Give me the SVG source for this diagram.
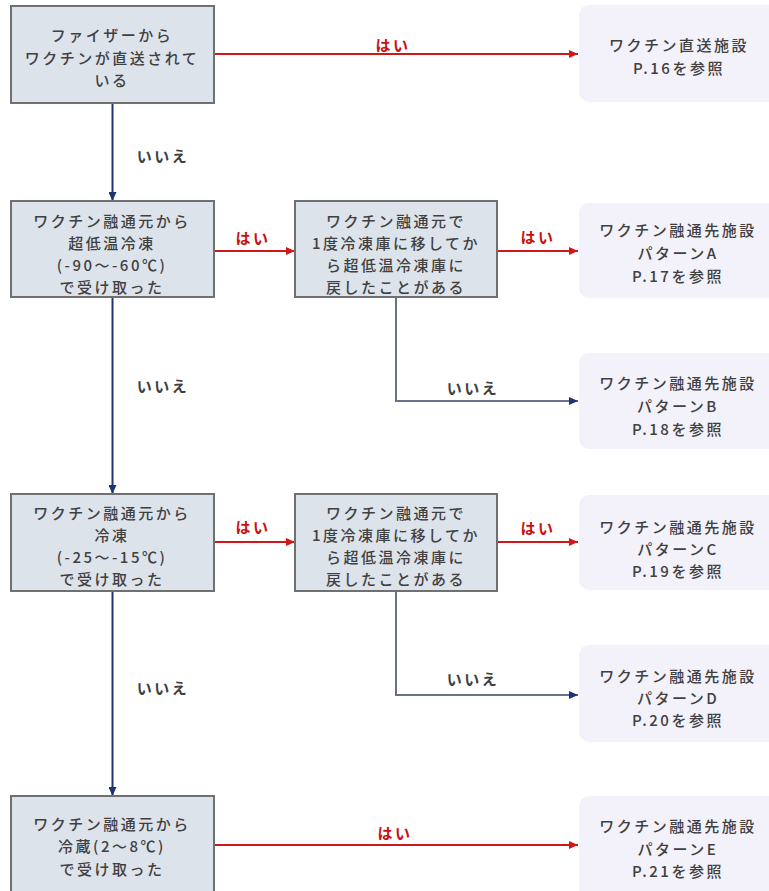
<svg xmlns="http://www.w3.org/2000/svg" width="769" height="891" viewBox="0 0 769 891">
<style>
text{font-family:"Noto Sans CJK JP","Noto Sans",sans-serif;font-size:15px;letter-spacing:2.5px;text-anchor:middle;dominant-baseline:central;fill:#404040;font-weight:500}
.q{fill:#dde3eb;stroke:#707070;stroke-width:2}
.r{fill:#f3f1f9;stroke:none}
.yes{stroke:#d01818;stroke-width:2;fill:none}
.no{stroke:#1f3372;stroke-width:2;fill:none}
.no2{stroke:#6a7088;stroke-width:2;fill:none}
.ly{fill:#c81010;font-weight:700}
.ln{fill:#404040;font-weight:700}
</style>
<defs>
<marker id="ar" markerUnits="userSpaceOnUse" markerWidth="10" markerHeight="8" refX="9" refY="4" orient="auto"><path d="M0,0 L9,4 L0,8 Z" fill="#d01818"/></marker>
<marker id="an" markerUnits="userSpaceOnUse" markerWidth="10" markerHeight="8" refX="9" refY="4" orient="auto"><path d="M0,0 L9,4 L0,8 Z" fill="#1f3372"/></marker>
</defs>
<rect width="769" height="891" fill="#ffffff"/>
<g id="connectors">
<path class="yes" d="M214,54 H578" marker-end="url(#ar)"/>
<path class="no" d="M112.5,103 V201" marker-end="url(#an)"/>
<path class="yes" d="M214,251 H295" marker-end="url(#ar)"/>
<path class="yes" d="M497,251 H578" marker-end="url(#ar)"/>
<path class="no2" d="M396,297 V401 H578" marker-end="url(#an)"/>
<path class="no" d="M112.5,297 V494" marker-end="url(#an)"/>
<path class="yes" d="M214,542 H295" marker-end="url(#ar)"/>
<path class="yes" d="M497,542 H578" marker-end="url(#ar)"/>
<path class="no2" d="M396,591 V695 H578" marker-end="url(#an)"/>
<path class="no" d="M112.5,591 V796" marker-end="url(#an)"/>
<path class="yes" d="M214,845 H578" marker-end="url(#ar)"/>
<text class="ly" x="393" y="44">はい</text>
<text class="ln" x="163" y="155">いいえ</text>
<text class="ly" x="253" y="237">はい</text>
<text class="ly" x="538" y="236">はい</text>
<text class="ln" x="473" y="387">いいえ</text>
<text class="ln" x="163" y="385">いいえ</text>
<text class="ly" x="253" y="526">はい</text>
<text class="ly" x="538" y="527">はい</text>
<text class="ln" x="473" y="678">いいえ</text>
<text class="ln" x="163" y="687">いいえ</text>
<text class="ly" x="395" y="832">はい</text>
</g>
<g id="q1"><rect class="q" x="11" y="6" width="203" height="97"/>
<text x="112" y="34">ファイザーから</text><text x="112" y="57">ワクチンが直送されて</text><text x="112" y="79">いる</text></g>
<g id="q2"><rect class="q" x="11" y="201" width="203" height="96"/>
<text x="112" y="220">ワクチン融通元から</text><text x="112" y="242">超低温冷凍</text><text x="112" y="264">(-90～-60℃)</text><text x="112" y="286">で受け取った</text></g>
<g id="q2b"><rect class="q" x="295" y="201" width="202" height="96"/>
<text x="396" y="220">ワクチン融通元で</text><text x="396" y="242">1度冷凍庫に移してか</text><text x="396" y="264">ら超低温冷凍庫に</text><text x="396" y="286">戻したことがある</text></g>
<g id="q3"><rect class="q" x="11" y="494" width="203" height="97"/>
<text x="112" y="512">ワクチン融通元から</text><text x="112" y="534">冷凍</text><text x="112" y="556">(-25～-15℃)</text><text x="112" y="578">で受け取った</text></g>
<g id="q3b"><rect class="q" x="295" y="494" width="202" height="97"/>
<text x="396" y="512">ワクチン融通元で</text><text x="396" y="534">1度冷凍庫に移してか</text><text x="396" y="556">ら超低温冷凍庫に</text><text x="396" y="578">戻したことがある</text></g>
<g id="q4"><rect class="q" x="11" y="796" width="203" height="105"/>
<text x="112" y="823">ワクチン融通元から</text><text x="112" y="845">冷蔵(2～8℃)</text><text x="112" y="868">で受け取った</text></g>
<g id="r0"><rect class="r" x="579" y="5" width="210" height="97" rx="10"/>
<text x="679" y="44">ワクチン直送施設</text><text x="679" y="67">P.16を参照</text></g>
<g id="rA"><rect class="r" x="579" y="203" width="210" height="95" rx="10"/>
<text x="678" y="229">ワクチン融通先施設</text><text x="678" y="252">パターンA</text><text x="678" y="275">P.17を参照</text></g>
<g id="rB"><rect class="r" x="579" y="353" width="210" height="96" rx="10"/>
<text x="678" y="382">ワクチン融通先施設</text><text x="678" y="405">パターンB</text><text x="678" y="428">P.18を参照</text></g>
<g id="rC"><rect class="r" x="579" y="495" width="210" height="95" rx="10"/>
<text x="678" y="526">ワクチン融通先施設</text><text x="678" y="548">パターンC</text><text x="678" y="570">P.19を参照</text></g>
<g id="rD"><rect class="r" x="579" y="645" width="210" height="97" rx="10"/>
<text x="678" y="675">ワクチン融通先施設</text><text x="678" y="697">パターンD</text><text x="678" y="719">P.20を参照</text></g>
<g id="rE"><rect class="r" x="579" y="796" width="210" height="105" rx="10"/>
<text x="678" y="825">ワクチン融通先施設</text><text x="678" y="848">パターンE</text><text x="678" y="870">P.21を参照</text></g>
</svg>
